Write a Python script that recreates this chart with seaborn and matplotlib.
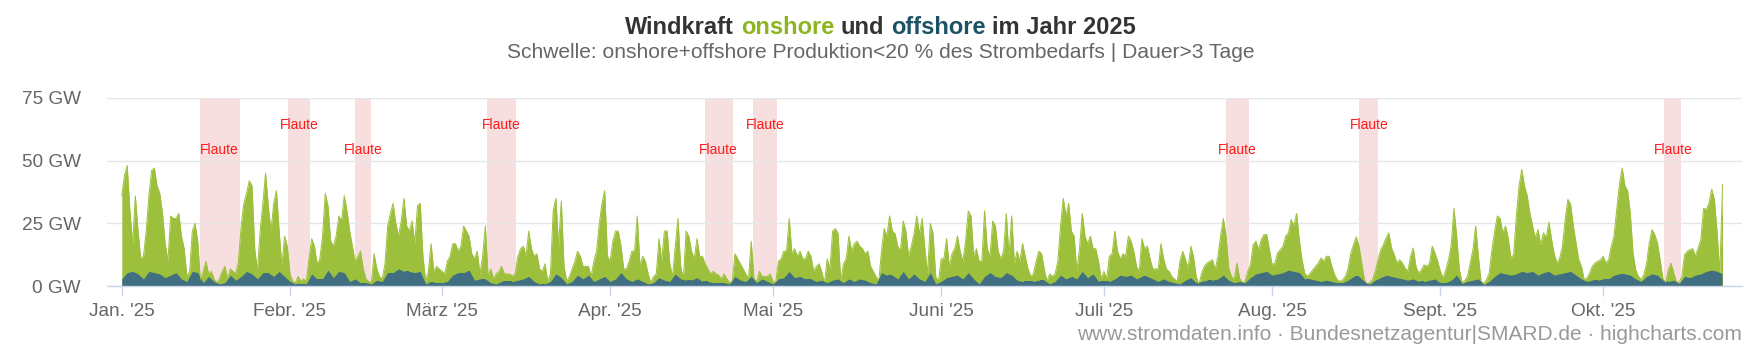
import matplotlib
matplotlib.use("Agg")
import matplotlib.pyplot as plt
import numpy as np
import pandas as pd
import seaborn as sns

# onshore + offshore (obere Kante der gruenen Flaeche) in GW, alle 12 h ab 01.01.2025
gesamt_gw = [
    36, 44, 48, 30, 17, 36, 22, 11, 12, 22, 36, 46, 47, 40, 37, 29, 17, 10, 28, 27,
    27, 29, 20, 15, 4, 6, 22, 25, 18, 2, 6, 10, 5, 6, 3, 1.5, 3, 6, 8, 3,
    7, 6, 5, 10, 24, 33, 37, 42, 40, 15, 6, 22, 33, 45, 32, 22, 33, 38, 22, 8,
    20, 16, 5, 2, 1.5, 4,
    2, 3, 2, 11, 19, 16, 9, 11, 20, 37, 32, 18, 16, 20, 28, 26, 36, 30, 22, 16,
    10, 12, 14, 7, 3, 2, 1.5, 13, 7, 4, 3, 9, 24, 29, 33, 25, 20, 26, 35, 24,
    22, 26, 17, 32, 33, 12, 2, 6, 17, 6, 8, 7, 6, 5, 10, 12, 17, 17, 14, 16,
    24, 22, 20, 13, 11, 14,
    5, 12, 24, 4, 7, 3, 5, 6, 8, 5, 5, 5, 4, 5, 12, 15, 16, 12, 22, 15,
    12, 13, 7, 6, 9, 2, 5, 30, 35, 16, 34, 8, 2, 4, 7, 10, 14, 12, 8, 8,
    8, 4, 10, 14, 25, 33, 38, 12, 10, 18, 22, 22, 16, 7, 7, 10, 14, 14, 28, 8,
    12, 10, 5, 1.5, 4, 5,
    19, 10, 22, 22, 9, 4, 16, 27, 8, 3, 22, 20, 14, 11, 19, 12, 12, 9, 7, 5,
    6, 5, 4.5, 3, 5, 3, 1.5, 2, 13, 11, 9, 7, 5, 3, 18, 3, 2, 6, 4, 4,
    4, 5, 2, 1.5, 10, 11, 14, 14, 27, 13, 15, 12, 14, 11, 11, 14, 12, 6, 8, 9,
    6, 1.5, 11, 7, 22, 23,
    21, 2, 9, 11, 20, 14, 17, 18, 16, 15, 13, 14, 8, 6, 4, 2, 14, 23, 20, 28,
    22, 21, 16, 14, 26, 22, 12, 16, 21, 28, 21, 27, 15, 5, 25, 21, 4, 2, 11, 11,
    19, 8, 13, 15, 20, 14, 10, 18, 30, 28, 12, 15, 10, 10, 30, 15, 12, 26, 24, 14,
    11, 14, 29, 12, 28, 9, 14,
    10, 17, 12, 7, 4, 5, 10, 14, 13, 7, 2, 5, 4, 5, 10, 24, 35, 28, 33, 22,
    20, 6, 15, 29, 20, 17, 20, 15, 15, 10, 3, 6, 3, 12, 13, 22, 14, 11, 13, 12,
    20, 18, 14, 8, 6, 19, 15, 16, 11, 7, 7, 7, 17, 11, 7, 6, 4, 3, 2, 10,
    14, 11, 7, 16, 12, 4,
    0.7, 5.3, 8, 9.3, 10, 10.6, 6.6, 12, 20, 27,
    20, 7.3, 4, 2.7, 9.3, 3.3, 1.6, 2, 6, 8.6,
    16.6, 18, 14.6, 18.6, 20.6, 20.6, 14.6, 8.6, 9.3, 13.3,
    14.6, 16, 20, 21.3, 26.6, 24, 29, 18.6, 10.6, 5.3,
    4, 5.3, 6.6, 8, 9.3, 11.3, 10, 12, 12, 8,
    4.7, 2.7, 2, 2.7, 4, 7.3, 13.3, 16.6, 19.7, 16,
    9.3, 2.7, 1, 1.6, 2.7, 6, 10.6, 14.6, 16.6, 19.3,
    21.3, 15.3, 12.6, 9.3, 10.6, 9.3, 7.3, 6, 12, 15.3,
    8, 5.3, 6.6, 8.6, 8, 9.3, 16, 13.3, 10, 6,
    3.3, 6.6, 10.6, 16.6, 31, 20, 6.6, 1.6, 2.4, 4,
    9.3, 14.6, 24, 12, 2, 1.3, 2.7, 5.3, 14.6, 22,
    28, 27, 21.3, 24, 19.3, 11.3, 12.6, 28, 40, 46.5,
    40, 36, 29, 24, 19.3, 22.6, 16.6, 21.3, 19.3, 25.5,
    18.6, 12.6, 9.3, 11.3, 16, 26.6, 34.6, 32.6, 24, 17.3,
    10.6, 8, 2.7, 3.3, 5.3, 8, 9.3, 10, 10.6, 12,
    9.3, 10.6, 16, 20, 30.6, 40.6, 47, 40, 38, 29,
    13.3, 6.6, 4, 2.7, 4.7, 9.3, 17.3, 22.6, 20.6, 17.3,
    10.6, 3.3, 1.3, 6.6, 9.3, 5.3, 2, 1.6, 4, 12.6,
    14, 14.6, 15, 12, 15.3, 18.6, 31, 30.6, 33, 38.6,
    34.6, 21.3, 5.3, 40.5,
]

# offshore in GW, taeglich ab 01.01.2025
offshore_gw = [
    3, 5.5, 6, 5, 3, 6, 5.5, 5, 3.5, 4.5, 5.5, 3, 2, 6, 5.5, 1.5, 4, 2, 1, 1.5,
    4.5, 2.5, 4, 6, 5, 3, 5.5, 5.5, 4, 6, 4, 2, 1,
    1, 1, 5, 3, 3, 6.5, 3.5, 6, 5.5, 2, 3, 1.5, 1.5, 1, 2.5, 2, 5.5, 5.5, 7, 6,
    6, 5.5, 6, 1, 2, 1.5, 1.5, 2, 4.5, 5.5, 5.5, 6.5, 2.5,
    3, 3, 1.5, 1, 2, 2, 2, 2.5, 3, 4, 2, 1, 1, 2, 5, 3.5, 1, 2, 4.5, 3,
    4.5, 2, 3, 4, 2, 3, 5.5, 3, 2, 3, 2, 1, 1.5,
    3.5, 2.5, 2, 5, 3, 2.5, 2.5, 3.5, 2, 2, 1.5, 1.5, 1.5, 1, 4, 2.5, 2, 4, 1.5, 3,
    2, 1, 3, 3.5, 6, 3.5, 4, 3, 3, 2, 2.5, 1.5, 2.5,
    3, 1.5, 3, 2, 3, 2.5, 1.5, 1, 5.5, 4.5, 4.5, 3, 6, 3, 5, 3, 2, 5.5, 1, 2,
    3.5, 4, 4.5, 3, 5.5, 3, 1, 4, 5.5, 4, 3.5, 5.5, 4.5, 2.5,
    2, 2, 2, 2.5, 2.5, 1, 2, 4.5, 3, 4, 3, 6, 3.5, 5, 2, 2, 2, 3, 4.5, 4,
    4.5, 3, 4, 4, 3, 2, 3, 2, 1.5, 1, 2.5, 3.5, 1.5,
    2, 2.5, 2.5, 3, 4.5, 2.5, 1.5, 2, 1.5, 3.5,
    5, 5.5, 6, 4.5, 5, 5.5, 6.5, 6, 5.5, 3,
    3, 2.5, 2, 2.5, 2, 1.5, 1.5, 2.5, 4, 4,
    2, 1, 2.5, 3.5, 4.5, 4, 3.5, 3, 2.5, 3,
    2, 2, 2.5, 3, 1.5, 1.5, 2.5, 4.5, 1.2, 2,
    2.5, 3, 0.8, 2, 4, 5.5, 5, 4.5, 5, 6,
    5.5, 6, 4.5, 5.5, 6, 4.5, 5, 5.5, 6, 4.5,
    3, 2, 2.5, 2.5, 3, 3, 4.5, 5, 5, 4.5,
    3, 2, 4, 5, 4.5, 2.5, 2, 2.5, 1.2, 4,
    3.5, 4.5, 5, 6, 6.5, 6, 5,
]

# Flaute-Zeitraeume (Schwelle unterschritten, Dauer > 3 Tage)
flaute_start = ['2025-01-15 08:00', '2025-01-31 14:00', '2025-02-12 22:00',
                '2025-03-09 07:00', '2025-04-18 10:00', '2025-04-27 07:00',
                '2025-07-23 12:00', '2025-08-17 02:00', '2025-10-12 07:00']
flaute_ende = ['2025-01-22 17:00', '2025-02-04 17:00', '2025-02-16 00:00',
               '2025-03-14 17:00', '2025-04-23 14:00', '2025-05-01 17:00',
               '2025-07-27 17:00', '2025-08-20 14:00', '2025-10-15 10:00']
flaute_oben = [False, True, False, True, False, True, False, True, False]

monate = ['2025-01-01', '2025-02-01', '2025-03-01', '2025-04-01', '2025-05-01',
          '2025-06-01', '2025-07-01', '2025-08-01', '2025-09-01', '2025-10-01']
monat_labels = ["Jan. '25", "Febr. '25", "März '25", "Apr. '25", "Mai '25",
                "Juni '25", "Juli '25", "Aug. '25", "Sept. '25", "Okt. '25"]
y_ticks = [0, 25, 50, 75]
y_labels = ['0 GW', '25 GW', '50 GW', '75 GW']

GRUEN = '#9dc03c'
BLAU = '#3f6f80'
GRAU = '#666666'
ACHSE = '#ccd6eb'

sns.set_style("white")
plt.rcParams['font.family'] = ['Liberation Sans', 'DejaVu Sans']

df_ges = pd.DataFrame({'zeit': pd.date_range('2025-01-01', periods=len(gesamt_gw), freq='12h'),
                       'gw': gesamt_gw})
df_off = pd.DataFrame({'zeit': pd.date_range('2025-01-01', periods=len(offshore_gw), freq='D'),
                       'gw': offshore_gw})

fig = plt.figure(figsize=(17.61, 3.52), dpi=100)
ax = fig.add_axes([0.0608, 0.1861, 0.9284, 0.5369])

for s, e, oben in zip(flaute_start, flaute_ende, flaute_oben):
    s, e = pd.Timestamp(s), pd.Timestamp(e)
    ax.axvspan(s, e, color='#f7dfe0', lw=0, zorder=0.2)
    ax.text(s + (e - s) / 2, 64 if oben else 54.2, 'Flaute', color='#ff1a1a',
            fontsize=10, ha='center', va='center', zorder=5)

flaeche = ax.fill_between(df_ges['zeit'], 0, df_ges['gw'], color=GRUEN, lw=0, zorder=2)
sns.lineplot(data=df_ges, x='zeit', y='gw', color=GRUEN, lw=0.7, ax=ax, zorder=2)
off = ax.fill_between(df_off['zeit'], 0, df_off['gw'], color=BLAU, lw=0, zorder=3)
# offshore liegt unter onshore gestapelt -> nie ueber die Gesamtkante
off.set_clip_path(flaeche.get_paths()[0], ax.transData)

ax.set_xlim(pd.Timestamp('2024-12-29 07:00'), pd.Timestamp('2025-10-26 14:00'))
ax.set_ylim(0, 75)
ax.set_yticks(y_ticks)
ax.set_yticklabels(y_labels)
ax.set_xticks(pd.to_datetime(monate))
ax.set_xticklabels(monat_labels)
ax.set_xlabel('')
ax.set_ylabel('')
ax.set_axisbelow(True)
ax.yaxis.grid(True, color='#e6e6e6', lw=1)
ax.xaxis.grid(False)
ax.tick_params(axis='y', length=0, pad=19, labelsize=13.7, labelcolor=GRAU)
ax.tick_params(axis='x', length=7.2, width=1, color=ACHSE, pad=5, labelsize=13.7,
               labelcolor=GRAU, bottom=True)
for sp in ['top', 'right', 'left']:
    ax.spines[sp].set_visible(False)
ax.spines['bottom'].set_color(ACHSE)
ax.spines['bottom'].set_linewidth(1)
ax.spines['bottom'].set_zorder(4)

# Titel mit farbigen Woertern
teile = [('Windkraft ', '#333333'), ('onshore', '#8cb51f'), (' und ', '#333333'),
         ('offshore', '#1b5266'), (' im Jahr 2025', '#333333')]
renderer = fig.canvas.get_renderer()


def breite(s, groesse):
    t = fig.text(0, 0, s, fontsize=groesse, fontweight='bold')
    w = t.get_window_extent(renderer).width
    t.remove()
    return w


groesse = 17.05
ganz = ''.join(s for s, _ in teile)
x0 = fig.bbox.width / 2 - breite(ganz, groesse) / 2
bisher = ''
for s, c in teile:
    lead = len(s) - len(s.lstrip())
    pre = bisher + s[:lead]
    w_pre = breite(pre + 'x', groesse) - breite('x', groesse) if pre else 0
    fig.text((x0 + w_pre) / fig.bbox.width, 0.922, s.strip(), fontsize=groesse,
             fontweight='bold', color=c, ha='left', va='center')
    bisher += s

fig.text(0.5, 0.851, 'Schwelle: onshore+offshore Produktion<20 % des Strombedarfs | Dauer>3 Tage',
         ha='center', va='center', fontsize=15.1, color=GRAU)
fig.text(0.989, 0.049, 'www.stromdaten.info · Bundesnetzagentur|SMARD.de · highcharts.com',
         ha='right', va='center', fontsize=15, color='#999999')

fig.savefig('out.png', dpi=100)
